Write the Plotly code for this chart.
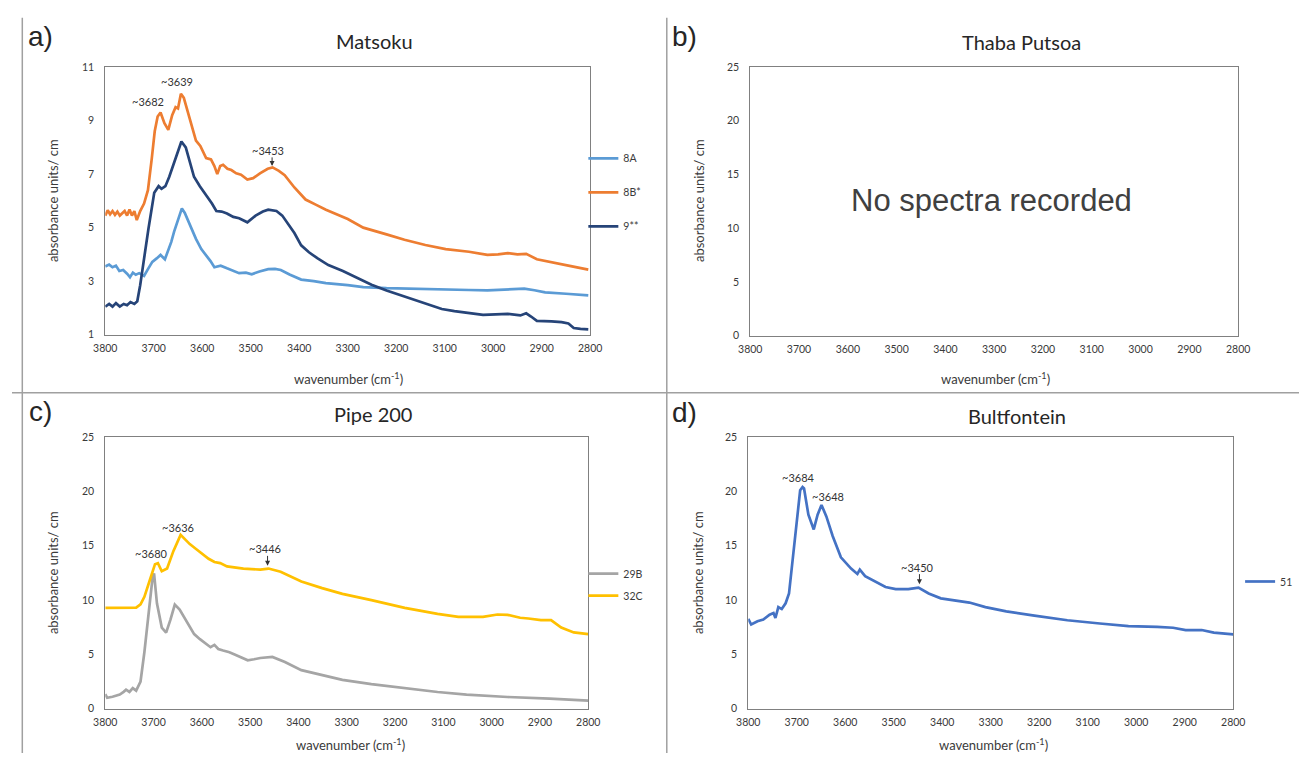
import plotly.graph_objects as go

W, H = 1311, 759

# ---------------- Data ----------------
# Panel a) Matsoku
a_8A_x = [3800, 3792, 3785, 3778, 3771, 3763, 3755, 3749, 3743, 3737, 3730, 3720, 3712, 3703, 3694, 3686, 3677, 3670, 3664, 3658, 3652, 3646, 3642, 3636, 3630, 3622, 3613, 3602, 3592, 3583, 3575, 3562, 3549, 3537, 3524, 3510, 3498, 3482, 3464, 3450, 3438, 3420, 3396, 3370, 3345, 3300, 3268, 3220, 3183, 3140, 3098, 3050, 3012, 2970, 2936, 2915, 2893, 2850, 2804]
a_8A_y = [3.55, 3.62, 3.52, 3.58, 3.38, 3.42, 3.28, 3.15, 3.32, 3.24, 3.30, 3.20, 3.45, 3.72, 3.85, 3.98, 3.82, 4.15, 4.46, 4.85, 5.20, 5.55, 5.72, 5.55, 5.30, 4.95, 4.58, 4.20, 3.97, 3.75, 3.52, 3.58, 3.48, 3.40, 3.30, 3.32, 3.26, 3.36, 3.45, 3.46, 3.42, 3.25, 3.06, 3.00, 2.93, 2.85, 2.78, 2.74, 2.72, 2.70, 2.68, 2.67, 2.66, 2.69, 2.72, 2.66, 2.58, 2.53, 2.47]

a_8B_x = [3800, 3795, 3790, 3785, 3780, 3775, 3770, 3765, 3760, 3755, 3750, 3745, 3740, 3735, 3728, 3720, 3712, 3704, 3698, 3692, 3686, 3678, 3670, 3662, 3655, 3650, 3644, 3638, 3630, 3622, 3613, 3604, 3592, 3582, 3575, 3569, 3563, 3557, 3548, 3540, 3530, 3520, 3507, 3495, 3481, 3465, 3455, 3442, 3430, 3410, 3387, 3365, 3345, 3300, 3268, 3220, 3183, 3140, 3098, 3050, 3012, 2990, 2970, 2950, 2932, 2910, 2880, 2860, 2840, 2804]
a_8B_y = [5.45, 5.65, 5.50, 5.62, 5.48, 5.60, 5.45, 5.55, 5.62, 5.45, 5.68, 5.45, 5.62, 5.28, 5.62, 5.90, 6.40, 7.60, 8.60, 9.15, 9.30, 8.90, 8.65, 9.20, 9.50, 9.45, 10.00, 9.85, 9.35, 8.80, 8.25, 8.05, 7.60, 7.55, 7.30, 7.00, 7.30, 7.35, 7.20, 7.15, 7.03, 6.98, 6.80, 6.85, 7.03, 7.20, 7.25, 7.12, 6.96, 6.50, 6.05, 5.85, 5.67, 5.32, 5.00, 4.75, 4.55, 4.35, 4.20, 4.10, 3.98, 4.00, 4.05, 4.00, 4.02, 3.82, 3.72, 3.65, 3.56, 3.43]

a_9_x = [3800, 3792, 3785, 3778, 3770, 3762, 3755, 3748, 3740, 3734, 3728, 3720, 3711, 3699, 3690, 3684, 3676, 3668, 3655, 3643, 3634, 3625, 3617, 3605, 3592, 3580, 3571, 3560, 3549, 3536, 3524, 3507, 3490, 3475, 3464, 3447, 3435, 3425, 3410, 3396, 3380, 3362, 3340, 3310, 3280, 3251, 3220, 3183, 3145, 3106, 3080, 3055, 3021, 2995, 2970, 2944, 2932, 2922, 2910, 2880, 2859, 2845, 2834, 2820, 2804]
a_9_y = [2.05, 2.15, 2.05, 2.18, 2.05, 2.15, 2.10, 2.22, 2.15, 2.25, 2.85, 3.90, 4.95, 6.30, 6.55, 6.45, 6.55, 6.90, 7.63, 8.22, 8.00, 7.45, 6.90, 6.55, 6.22, 5.90, 5.62, 5.60, 5.53, 5.40, 5.35, 5.20, 5.45, 5.60, 5.67, 5.62, 5.45, 5.20, 4.80, 4.34, 4.08, 3.85, 3.60, 3.38, 3.12, 2.87, 2.65, 2.43, 2.18, 1.96, 1.88, 1.82, 1.74, 1.76, 1.78, 1.72, 1.80, 1.68, 1.52, 1.50, 1.47, 1.42, 1.25, 1.22, 1.20]

# Panel c) Pipe 200
c_29B_x = [3800, 3796, 3785, 3770, 3762, 3757, 3750, 3743, 3736, 3727, 3719, 3710, 3702, 3699, 3693, 3683, 3674, 3665, 3656, 3646, 3633, 3616, 3604, 3595, 3582, 3574, 3566, 3556, 3543, 3531, 3518, 3505, 3492, 3479, 3454, 3428, 3394, 3351, 3309, 3249, 3180, 3112, 3052, 2967, 2880, 2800]
c_29B_y = [1.35, 1.00, 1.10, 1.30, 1.55, 1.75, 1.54, 1.90, 1.66, 2.50, 5.20, 8.80, 12.10, 12.45, 9.70, 7.47, 7.00, 8.20, 9.58, 9.13, 8.20, 6.87, 6.40, 6.10, 5.66, 5.87, 5.50, 5.36, 5.20, 4.97, 4.70, 4.46, 4.55, 4.67, 4.76, 4.30, 3.55, 3.10, 2.65, 2.26, 1.90, 1.54, 1.30, 1.08, 0.93, 0.75]

c_32C_x = [3800, 3780, 3760, 3745, 3736, 3727, 3719, 3708, 3697, 3691, 3683, 3672, 3659, 3644, 3635, 3625, 3612, 3599, 3586, 3574, 3562, 3548, 3530, 3514, 3479, 3462, 3437, 3394, 3351, 3309, 3249, 3180, 3112, 3069, 3018, 2988, 2967, 2941, 2924, 2898, 2877, 2856, 2830, 2800]
c_32C_y = [9.28, 9.30, 9.25, 9.32, 9.30, 9.60, 10.30, 11.80, 13.30, 13.40, 12.65, 12.90, 14.50, 16.00, 15.60, 15.15, 14.70, 14.25, 13.80, 13.50, 13.40, 13.10, 13.00, 12.90, 12.80, 12.90, 12.60, 11.70, 11.10, 10.57, 10.00, 9.28, 8.73, 8.46, 8.46, 8.67, 8.64, 8.37, 8.30, 8.16, 8.16, 7.47, 7.02, 6.87]

# Panel d) Bultfontein
d_51_x = [3800, 3794, 3781, 3769, 3756, 3748, 3744, 3738, 3731, 3723, 3716, 3707, 3699, 3693, 3688, 3685, 3676, 3665, 3657, 3649, 3639, 3626, 3609, 3598, 3588, 3575, 3570, 3559, 3538, 3517, 3496, 3470, 3449, 3428, 3403, 3369, 3344, 3311, 3268, 3210, 3142, 3075, 3016, 2957, 2924, 2898, 2865, 2840, 2800]
d_51_y = [8.26, 7.75, 8.05, 8.20, 8.65, 8.80, 8.35, 9.35, 9.17, 9.70, 10.60, 14.20, 17.85, 20.10, 20.40, 20.27, 17.85, 16.50, 17.85, 18.75, 17.70, 15.90, 13.93, 13.40, 12.90, 12.40, 12.80, 12.20, 11.67, 11.20, 11.00, 11.00, 11.15, 10.60, 10.16, 9.95, 9.77, 9.35, 8.96, 8.56, 8.14, 7.84, 7.60, 7.54, 7.45, 7.24, 7.24, 7.00, 6.85]

x_ticks = [3800, 3700, 3600, 3500, 3400, 3300, 3200, 3100, 3000, 2900, 2800]
a_y_ticks = [1, 3, 5, 7, 9, 11]
bcd_y_ticks = [0, 5, 10, 15, 20, 25]

panel_titles = ["Matsoku", "Thaba Putsoa", "Pipe 200", "Bultfontein"]
panel_letters = ["a)", "b)", "c)", "d)"]

# peak labels: (panel, text, x, y)
peak_labels = [
    (1, "~3682", 3711, 9.71),
    (1, "~3639", 3652, 10.45),
    (1, "~3453", 3464, 7.88),
    (3, "~3680", 3704, 14.25),
    (3, "~3636", 3650, 16.65),
    (3, "~3446", 3469, 14.76),
    (4, "~3684", 3697, 21.26),
    (4, "~3648", 3636, 19.5),
    (4, "~3450", 3451, 13.0),
]
# arrows: (panel, x, y_tail, y_head)
peak_arrows = [
    (1, 3456, 7.70, 7.30),
    (3, 3464, 14.25, 13.15),
    (4, 3447, 12.57, 11.45),
]

# ---------------- Styling ----------------
FONT = "Lato, Carlito, 'Open Sans', sans-serif"
TXT = "#3a3a3a"
AXC = "#808080"

def px(v):
    return v / W

def py(v):
    return 1 - v / H

domains = {
    1: ([px(95), px(589)], [py(334), py(62)]),
    2: ([px(752), px(1249)], [py(335), py(62)]),
    3: ([px(95), px(587)], [py(714), py(438)]),
    4: ([px(750), px(1244)], [py(714), py(438)]),
}

fig = go.Figure()

def add(x, y, name, color, ax, legend, group):
    sfx = "" if ax == 1 else str(ax)
    fig.add_trace(go.Scatter(
        x=x, y=y, name=name, mode="lines",
        line=dict(color=color, width=2.7),
        xaxis="x" + sfx, yaxis="y" + sfx,
        legend=legend, legendgroup=group,
    ))

add(a_8A_x, a_8A_y, "8A", "#5B9BD5", 1, "legend", "a1")
add(a_8B_x, a_8B_y, "8B*", "#ED7D31", 1, "legend", "a2")
add(a_9_x, a_9_y, "9**", "#264478", 1, "legend", "a3")
fig.add_trace(go.Scatter(x=[None], y=[None], xaxis="x2", yaxis="y2", showlegend=False))
add(c_29B_x, c_29B_y, "29B", "#A5A5A5", 3, "legend2", "c1")
add(c_32C_x, c_32C_y, "32C", "#FFC000", 3, "legend2", "c2")
add(d_51_x, d_51_y, "51", "#4472C4", 4, "legend3", "d1")

layout = dict(
    width=W, height=H,
    margin=dict(l=0, r=0, t=0, b=0),
    paper_bgcolor="white", plot_bgcolor="white",
    font=dict(family=FONT, color=TXT, size=10),
    showlegend=True,
)

for i in range(1, 5):
    sfx = "" if i == 1 else str(i)
    xd, yd = domains[i]
    layout["xaxis" + sfx] = dict(
        domain=xd, anchor="y" + sfx, range=[3800, 2800],
        tickvals=x_ticks, ticks="", showgrid=False, zeroline=False,
        showline=True, mirror=True, linecolor=AXC, linewidth=1,
        tickfont=dict(family=FONT, size=10.5, color=TXT),
        ticklabelstandoff=4,
    )
    yt = a_y_ticks if i == 1 else bcd_y_ticks
    layout["yaxis" + sfx] = dict(
        domain=yd, anchor="x" + sfx, range=[yt[0], yt[-1]],
        tickvals=yt, ticks="", showgrid=False, zeroline=False,
        showline=True, mirror=True, linecolor=AXC, linewidth=1,
        tickfont=dict(family=FONT, size=10.5, color=TXT),
        ticklabelstandoff=8,
    )

leg_common = dict(
    bgcolor="rgba(0,0,0,0)", borderwidth=0, itemwidth=30,
    font=dict(family=FONT, size=10.5, color=TXT),
    xanchor="left", yanchor="top", itemclick=False, itemdoubleclick=False,
)
layout["legend"] = dict(leg_common, x=px(582), y=py(140), tracegroupgap=15)
layout["legend2"] = dict(leg_common, x=px(582), y=py(562), tracegroupgap=3)
layout["legend3"] = dict(leg_common, x=px(1251), y=py(570), tracegroupgap=0)

fig.update_layout(**layout)

ann = []
title_pos = [(369, 36), (1028, 37), (368, 415), (1024, 417)]
for t, (x, y) in zip(panel_titles, title_pos):
    ann.append(dict(text=t, x=px(x), y=py(y), xref="paper", yref="paper",
                    showarrow=False, xanchor="center", yanchor="middle",
                    font=dict(family=FONT, size=20, color="#262626")))
letter_pos = [(14, 31), (670, 31), (15, 412), (670, 413)]
for t, (x, y) in zip(panel_letters, letter_pos):
    ann.append(dict(text=t, x=px(x), y=py(y), xref="paper", yref="paper",
                    showarrow=False, xanchor="left", yanchor="middle",
                    font=dict(family="Liberation Sans, Arial, sans-serif", size=28, color="#262626")))
# axis titles
ytitle_pos = [(42, 198), (700, 198), (42, 576), (699, 576)]
for (x, y) in ytitle_pos:
    ann.append(dict(text="absorbance units/ cm", x=px(x), y=py(y), xref="paper", yref="paper",
                    showarrow=False, textangle=-90, xanchor="center", yanchor="middle",
                    font=dict(family=FONT, size=13, color=TXT)))
xtitle_pos = [(343, 378), (1002, 378), (345, 750), (1000, 750)]
for (x, y) in xtitle_pos:
    ann.append(dict(text="wavenumber (cm<sup>-1</sup>)", x=px(x), y=py(y), xref="paper", yref="paper",
                    showarrow=False, xanchor="center", yanchor="middle",
                    font=dict(family=FONT, size=13, color=TXT)))
# No spectra recorded
ann.append(dict(text="No spectra recorded", x=px(998), y=py(198), xref="paper", yref="paper",
                showarrow=False, xanchor="center", yanchor="middle",
                font=dict(family="Liberation Sans, Arial, sans-serif", size=31, color="#404040")))
# peak labels
for (p, t, x, y) in peak_labels:
    sfx = "" if p == 1 else str(p)
    ann.append(dict(text=t, x=x, y=y, xref="x" + sfx, yref="y" + sfx, showarrow=False,
                    xanchor="center", yanchor="middle",
                    font=dict(family=FONT, size=11, color="#333333")))
for (p, x, y0, y1) in peak_arrows:
    sfx = "" if p == 1 else str(p)
    ann.append(dict(text=" ", x=x, y=y1, ax=x, ay=y0, xref="x" + sfx, yref="y" + sfx,
                    axref="x" + sfx, ayref="y" + sfx, showarrow=True,
                    arrowhead=2, arrowsize=1, arrowwidth=1, arrowcolor="#333333",
                    font=dict(size=1)))
fig.update_layout(annotations=ann)

# panel separators
line_style = dict(color="#A0A0A0", width=1.5)
fig.add_shape(type="line", xref="paper", yref="paper", x0=px(10.5), x1=px(10.5), y0=py(12), y1=0, line=line_style)
fig.add_shape(type="line", xref="paper", yref="paper", x0=px(667), x1=px(667), y0=py(12), y1=0, line=line_style)
fig.add_shape(type="line", xref="paper", yref="paper", x0=0, x1=1, y0=py(393), y1=py(393), line=line_style)

POST = (
    "document.body.style.margin='0';"
    "document.body.style.overflow='hidden';"
)
fig.write_html("out.html", post_script=POST)
